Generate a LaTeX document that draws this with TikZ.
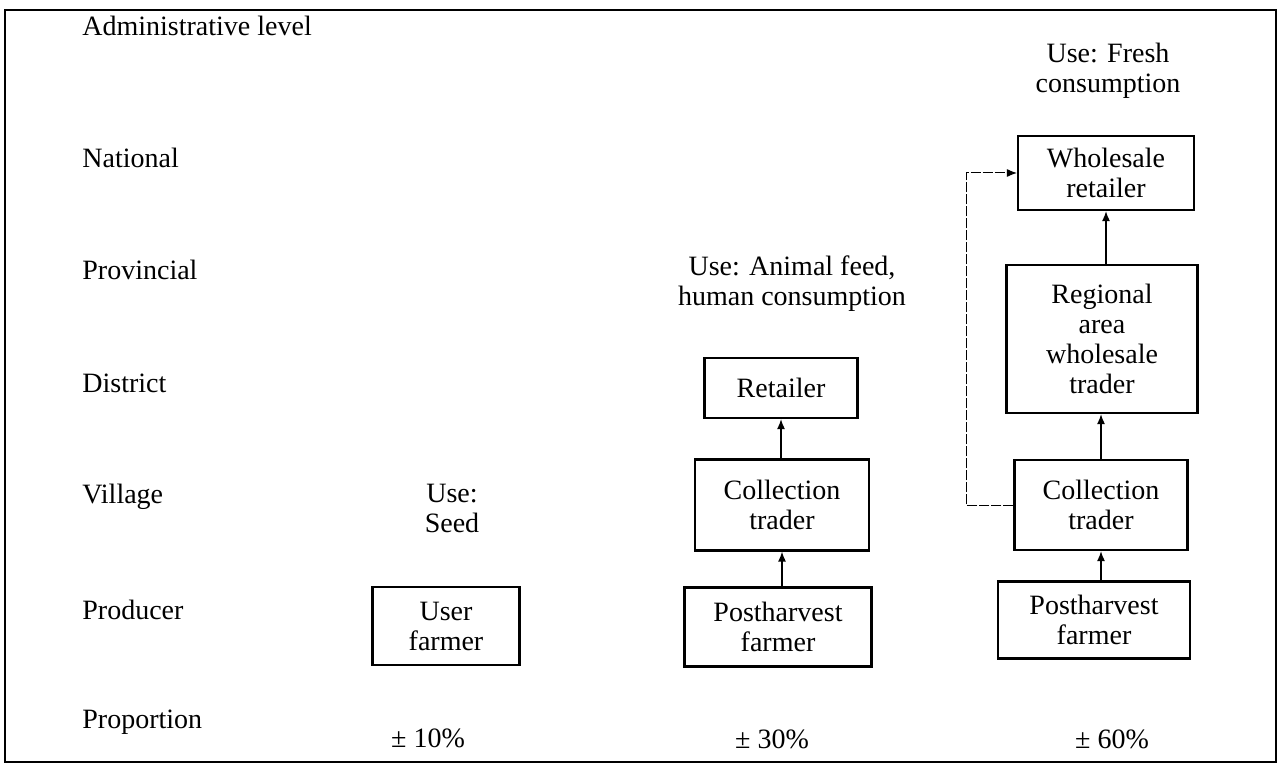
\documentclass[tikz,border=0pt]{standalone}
\usepackage{fontspec}
\setmainfont{Liberation Serif}
\usetikzlibrary{arrows.meta}
\begin{document}
\begin{tikzpicture}[x=0.5pt,y=-0.5pt,
  every node/.style={font=\fontsize{14}{15}\selectfont, inner sep=0pt},
  stage/.style={draw, line width=1.1pt, align=center},
  lbl/.style={anchor=west},
  usetxt/.style={align=center},
  flow/.style={line width=0.7pt, -{Latex[length=5pt,width=4pt]}},
  link/.style={line width=0.5pt, dash pattern=on 5pt off 1pt, -{Latex[length=5pt,width=4pt]}}]
\useasboundingbox (0,0) rectangle (1278,770);
% outer frame
\draw[line width=1pt] (5,10) rectangle (1276,762);

% administrative levels
\node[lbl] (hdr) at (82,26) {Administrative level};
\node[lbl] (lnat) at (82,158) {National};
\node[lbl] (lpro) at (82,270) {Provincial};
\node[lbl] (ldis) at (82,383) {District};
\node[lbl] (lvil) at (82,497) {Village};
\node[lbl] (lprd) at (82,610) {Producer};
\node[lbl] (lprp) at (82,722) {Proportion};

% seed channel
\node[usetxt] (useseed) at (452,508) {Use:\\Seed};
\node[stage, minimum width=73.5pt, minimum height=39pt] (uf) at (446,626) {User\\farmer};
\node (p10) at (428,738) {± 10\%};

% feed channel
\node[usetxt] (usefeed) at (792,284) {Use: Animal feed,\\human consumption};
\node[stage, minimum width=76.5pt, minimum height=30pt] (ret) at (781,388) {Retailer};
\node[stage, minimum width=87pt, minimum height=45.5pt] (cm) at (782,505) {Collection\\trader};
\node[stage, minimum width=93.5pt, minimum height=39.5pt] (pm) at (778,627) {Postharvest\\farmer};
\node (p30) at (772,739) {± 30\%};

% fresh channel
\node[usetxt] (usefresh) at (1108,71) {Use: Fresh\\consumption};
\node[stage, minimum width=88pt, minimum height=37pt] (ws) at (1106,173) {Wholesale\\retailer};
\node[stage, minimum width=95.5pt, minimum height=74pt] (rg) at (1102,339) {Regional\\area\\wholesale\\trader};
\node[stage, minimum width=86.5pt, minimum height=45pt] (cr) at (1101,505) {Collection\\trader};
\node[stage, minimum width=96pt, minimum height=38.5pt] (pr) at (1094,620) {Postharvest\\farmer};
\node (p60) at (1112,739) {± 60\%};

% flows
\draw[flow] (pm.north -| cm) -- (cm.south);
\draw[flow] (cm.north -| ret) -- (ret.south);
\draw[flow] (pr.north -| cr) -- (cr.south);
\draw[flow] (cr.north) -- (cr.north |- rg.south);
\draw[flow] (rg.north -| ws) -- (ws.south);
\coordinate (loop) at (966,0);
\draw[link] (cr.west) -- (cr.west -| loop) |- (ws.west);
\end{tikzpicture}
\end{document}
